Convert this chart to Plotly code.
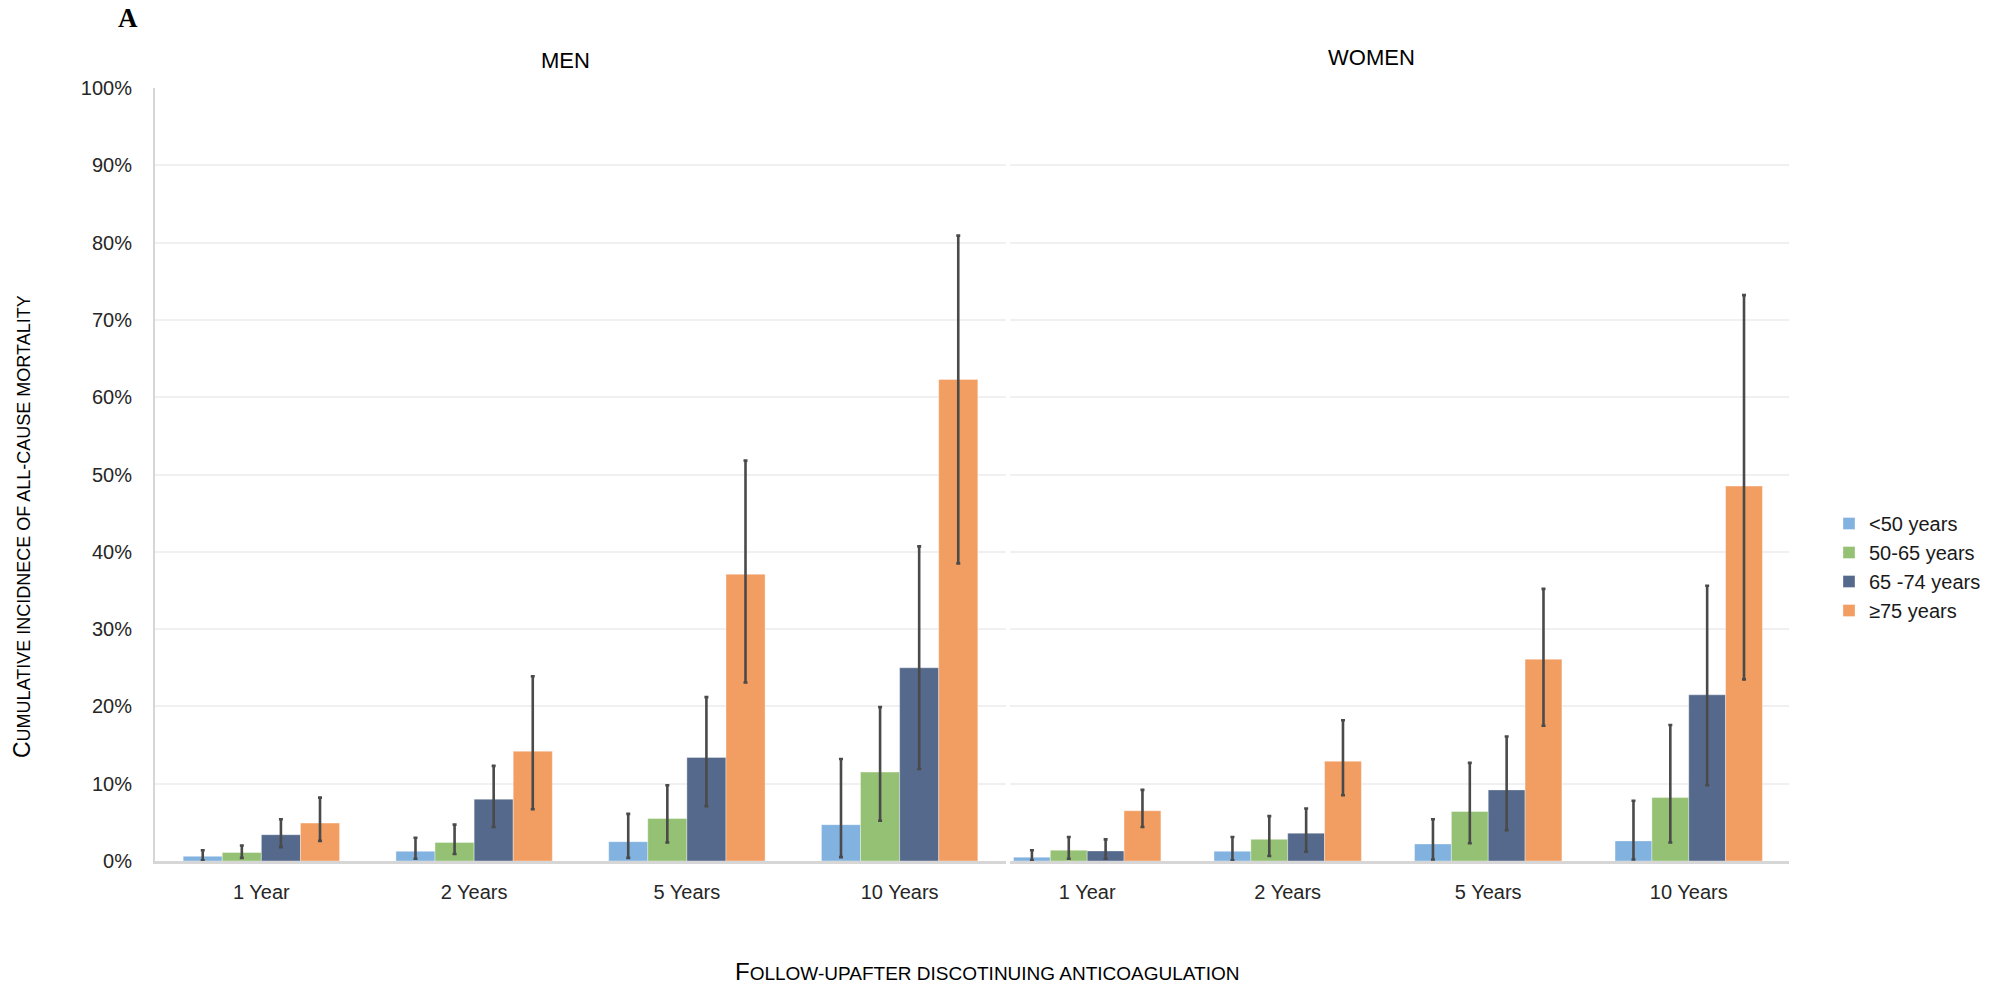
import plotly.graph_objects as go

# Follow-up periods (x categories) and age groups (series)
categories = ["1 Year", "2 Years", "5 Years", "10 Years"]
age_groups = ["<50 years", "50-65 years", "65 -74 years", "≥75 years"]
colors = ["#82B2DF", "#94C173", "#55698C", "#F29D62"]

# Cumulative incidence (%) and 95% CI bounds, men
men_lt50 = [0.6, 1.25, 2.5, 4.7]
men_50_65 = [1.1, 2.4, 5.5, 11.5]
men_65_74 = [3.4, 8.0, 13.4, 25.0]
men_ge75 = [4.9, 14.2, 37.1, 62.3]

men_lt50_hi = [1.4, 3.0, 6.1, 13.2]
men_50_65_hi = [2.0, 4.7, 9.8, 19.9]
men_65_74_hi = [5.4, 12.3, 21.2, 40.7]
men_ge75_hi = [8.2, 23.9, 51.8, 80.9]

men_lt50_lo = [0.1, 0.3, 0.4, 0.5]
men_50_65_lo = [0.4, 0.9, 2.4, 5.2]
men_65_74_lo = [1.8, 4.4, 7.1, 11.9]
men_ge75_lo = [2.6, 6.7, 23.1, 38.5]

# Cumulative incidence (%) and 95% CI bounds, women
women_lt50 = [0.5, 1.25, 2.2, 2.6]
women_50_65 = [1.4, 2.8, 6.4, 8.2]
women_65_74 = [1.3, 3.6, 9.2, 21.5]
women_ge75 = [6.5, 12.9, 26.1, 48.5]

women_lt50_hi = [1.4, 3.1, 5.4, 7.8]
women_50_65_hi = [3.1, 5.8, 12.7, 17.6]
women_65_74_hi = [2.8, 6.8, 16.1, 35.6]
women_ge75_hi = [9.2, 18.2, 35.2, 73.2]

women_lt50_lo = [0.1, 0.1, 0.2, 0.2]
women_50_65_lo = [0.3, 0.65, 2.3, 2.4]
women_65_74_lo = [0.3, 1.2, 4.0, 9.8]
women_ge75_lo = [4.4, 8.5, 17.5, 23.5]

men = [
    (men_lt50, men_lt50_lo, men_lt50_hi),
    (men_50_65, men_50_65_lo, men_50_65_hi),
    (men_65_74, men_65_74_lo, men_65_74_hi),
    (men_ge75, men_ge75_lo, men_ge75_hi),
]
women = [
    (women_lt50, women_lt50_lo, women_lt50_hi),
    (women_50_65, women_50_65_lo, women_50_65_hi),
    (women_65_74, women_65_74_lo, women_65_74_hi),
    (women_ge75, women_ge75_lo, women_ge75_hi),
]

fig = go.Figure()


def add_panel(series, xaxis, yaxis, show_legend):
    for i, (vals, lo, hi) in enumerate(series):
        fig.add_trace(go.Bar(
            x=categories,
            y=vals,
            name=age_groups[i],
            legendgroup=age_groups[i],
            showlegend=show_legend,
            offsetgroup=str(i),
            marker=dict(color=colors[i], line=dict(color="rgba(255,255,255,0.6)", width=0.6)),
            error_y=dict(
                type="data",
                symmetric=False,
                array=[h - v for h, v in zip(hi, vals)],
                arrayminus=[v - l for v, l in zip(vals, lo)],
                color="#4A4A4A",
                thickness=2.6,
                width=2,
            ),
            xaxis=xaxis,
            yaxis=yaxis,
        ))


add_panel(men, "x", "y", True)
add_panel(women, "x2", "y2", False)

W, H = 2009, 986
L, R, T, B = 155, 220, 88, 125
pw = W - L - R
ph = H - T - B


def px_x(px):
    return (px - L) / pw


def px_y(py):
    return (H - B - py) / ph


sans = "Liberation Sans, Arial, sans-serif"
narrow = "Liberation Sans Narrow, Arial Narrow, Liberation Sans, sans-serif"
tick_font = dict(family=sans, size=20, color="#262626")
grid_col = "#F0F0F0"
axis_col = "#D6D6D6"

xcommon = dict(
    type="category",
    showgrid=False,
    showline=True,
    linecolor=axis_col,
    linewidth=2.5,
    ticks="",
    tickfont=tick_font,
    ticklabelstandoff=11,
)
ycommon = dict(
    range=[0, 100],
    dtick=10,
    showgrid=True,
    gridcolor=grid_col,
    gridwidth=1.5,
    zeroline=False,
)

fig.update_layout(
    width=W,
    height=H,
    margin=dict(l=L, r=R, t=T, b=B),
    paper_bgcolor="white",
    plot_bgcolor="white",
    barmode="group",
    bargap=0.265,
    bargroupgap=0,
    xaxis=dict(domain=[0, px_x(1006)], range=[-0.5, 3.5], **xcommon),
    xaxis2=dict(domain=[px_x(1010), 1], range=[-0.385, 3.5], anchor="y2", **xcommon),
    yaxis=dict(
        ticksuffix="%",
        showline=True,
        linecolor=axis_col,
        linewidth=2,
        tickfont=tick_font,
        ticklabelstandoff=17,
        anchor="x",
        **ycommon,
    ),
    yaxis2=dict(showticklabels=False, showline=False, anchor="x2", matches="y", **ycommon),
    legend=dict(
        x=px_x(1829),
        y=px_y(504),
        xanchor="left",
        yanchor="top",
        font=dict(family=sans, size=20, color="#1A1A1A"),
        itemwidth=30,
        tracegroupgap=0,
        bgcolor="rgba(0,0,0,0)",
    ),
    annotations=[
        dict(text="<b>A</b>", x=px_x(128), y=px_y(18), xref="paper", yref="paper",
             showarrow=False, xanchor="center", yanchor="middle",
             font=dict(family="Liberation Serif, Times New Roman, serif", size=27, color="black")),
        dict(text="MEN", x=px_x(565), y=px_y(61), xref="paper", yref="paper", showarrow=False,
             xanchor="center", yanchor="middle", font=dict(family=sans, size=22, color="black")),
        dict(text="WOMEN", x=px_x(1371), y=px_y(58), xref="paper", yref="paper", showarrow=False,
             xanchor="center", yanchor="middle", font=dict(family=sans, size=22, color="black")),
        dict(text="F<span style='font-size:19px'>OLLOW-UPAFTER DISCOTINUING ANTICOAGULATION</span>",
             x=px_x(987), y=px_y(972), xref="paper", yref="paper", showarrow=False,
             xanchor="center", yanchor="middle", font=dict(family=narrow, size=24, color="black")),
        dict(text="C<span style='font-size:18px'>UMULATIVE INCIDNECE OF ALL-CAUSE MORTALITY</span>",
             x=px_x(22), y=px_y(527), xref="paper", yref="paper", showarrow=False,
             textangle=-90, xanchor="center", yanchor="middle",
             font=dict(family=narrow, size=23, color="black")),
    ],
)

fig.write_html("out.html")
